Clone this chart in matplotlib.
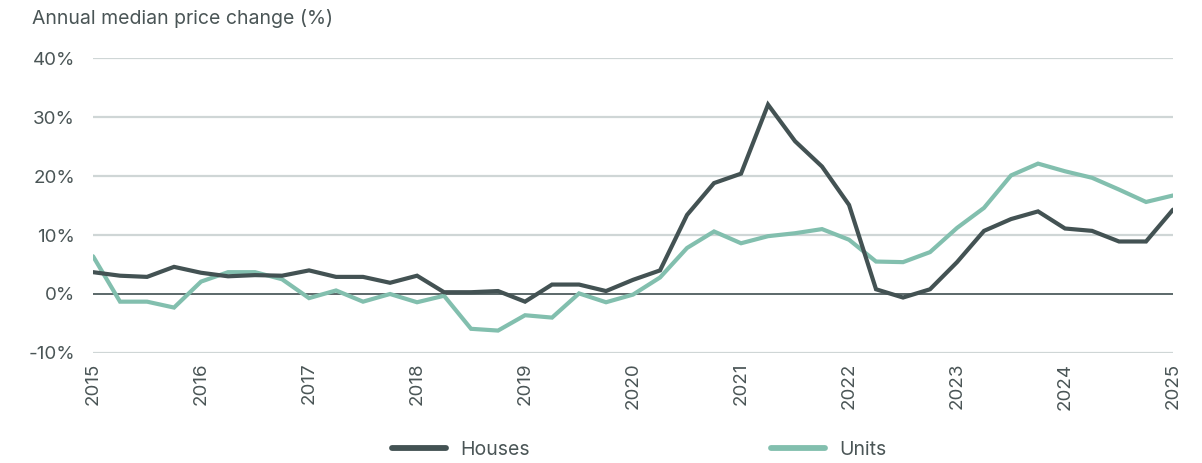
import numpy as np
import matplotlib.pyplot as plt

# quarterly annual change (%), 2015 Q1 .. 2025 Q1
houses = [3.7, 3.1, 2.9, 4.6, 3.6, 3.0, 3.2, 3.1, 4.0, 2.9, 2.9, 1.9, 3.1, 0.3, 0.3, 0.5,
          -1.3, 1.6, 1.6, 0.5, 2.4, 4.0, 13.4, 18.8, 20.4, 32.1, 25.9, 21.6, 15.1, 0.8,
          -0.6, 0.8, 5.4, 10.7, 12.7, 14.0, 11.1, 10.7, 8.9, 8.9, 14.3]
units = [6.4, -1.3, -1.3, -2.3, 2.1, 3.7, 3.7, 2.5, -0.7, 0.6, -1.3, 0.0, -1.4, -0.3, -5.9, -6.2,
         -3.6, -4.0, 0.1, -1.4, -0.1, 2.8, 7.8, 10.6, 8.6, 9.8, 10.3, 11.0, 9.2, 5.5,
         5.4, 7.1, 11.2, 14.6, 20.1, 22.1, 20.8, 19.7, 17.7, 15.6, 16.7]
years = list(range(2015, 2026))
yticks = [-10, 0, 10, 20, 30, 40]

x = 2015 + np.arange(len(houses)) / 4

text_col = '#4a5556'
plt.rcParams['font.family'] = ['Inter', 'DejaVu Sans']

fig = plt.figure(figsize=(12.02, 4.63), dpi=100)
ax = fig.add_axes([0.0774, 0.2376, 0.8985, 0.6371])

for y in yticks:
    if y == 0:
        ax.axhline(y, color='#3f4f50', lw=1.2, zorder=1)
    else:
        ax.axhline(y, color='#cfd6d6', lw=1.6, zorder=0)

ax.plot(x, houses, color='#435253', lw=3, label='Houses', zorder=3,
        solid_capstyle='round', solid_joinstyle='miter')
ax.plot(x, units, color='#82bfae', lw=3, label='Units', zorder=2,
        solid_capstyle='round', solid_joinstyle='miter')

ax.set_xlim(2015, 2025)
ax.set_ylim(-10, 40)
ax.set_xticks(years)
ax.set_xticklabels([str(y) for y in years], rotation=90, fontsize=13.5, color=text_col)
ax.set_yticks(yticks)
ax.set_yticklabels([f'{y}%' for y in yticks], fontsize=13.5, color=text_col)
ax.tick_params(axis='both', length=0)
ax.tick_params(axis='y', pad=13)
ax.tick_params(axis='x', pad=7)
for s in ax.spines.values():
    s.set_visible(False)

fig.text(0.027, 0.96, 'Annual median price change (%)', fontsize=14, color=text_col,
         va='center', ha='left')

leg = fig.legend(loc='center', bbox_to_anchor=(0.532, 0.028), ncol=2, frameon=False,
                 fontsize=14, handlelength=2.75, handletextpad=0.75, columnspacing=12.4)
for t in leg.get_texts():
    t.set_color(text_col)
for h in leg.legend_handles:
    h.set_linewidth(4.2)

fig.savefig('out.png', dpi=100)
